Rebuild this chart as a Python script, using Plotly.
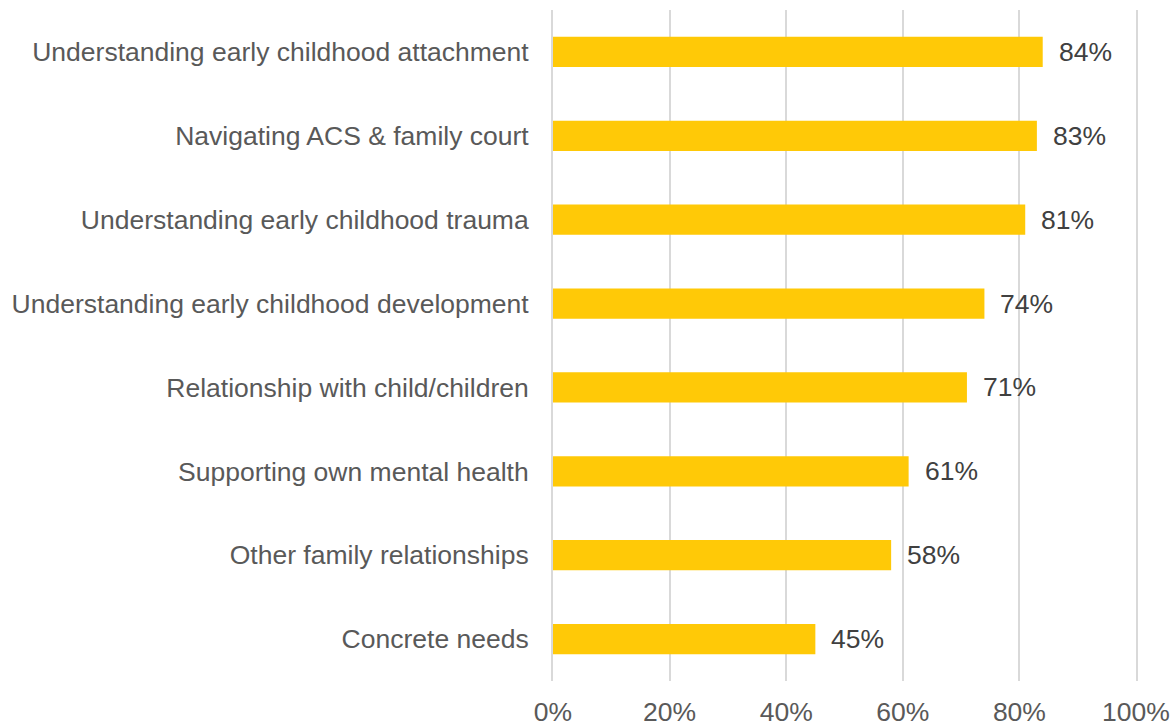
import plotly.graph_objects as go

categories = [
    "Understanding early childhood attachment",
    "Navigating ACS & family court",
    "Understanding early childhood trauma",
    "Understanding early childhood development",
    "Relationship with child/children",
    "Supporting own mental health",
    "Other family relationships",
    "Concrete needs",
]
values = [84, 83, 81, 74, 71, 61, 58, 45]
tick_vals = [0, 20, 40, 60, 80, 100]
tick_text = ["0%", "20%", "40%", "60%", "80%", "100%"]

FONT = "Liberation Sans, Arial, sans-serif"
SIZE = 26.5

fig = go.Figure(
    go.Bar(
        x=values,
        y=categories,
        orientation="h",
        marker=dict(color="#FFC907", line=dict(width=0)),
        width=0.36,
        hoverinfo="skip",
    )
)

# value labels to the right of each bar
for cat, v in zip(categories, values):
    fig.add_annotation(
        x=v, y=cat, text=f"{v}%", showarrow=False,
        xanchor="left", yanchor="middle", xshift=14,
        font=dict(family=FONT, size=SIZE, color="#404040"),
    )

fig.update_layout(
    width=1173, height=727,
    margin=dict(l=553, r=37, t=10, b=46),
    paper_bgcolor="white", plot_bgcolor="white",
    showlegend=False,
    font=dict(family=FONT, size=SIZE, color="#595959"),
    xaxis=dict(
        range=[0, 100], tickvals=tick_vals, ticktext=tick_text,
        showgrid=True, gridcolor="#D9D9D9", gridwidth=2,
        zeroline=False, showline=False, ticks="",
        ticklabelstandoff=12, automargin=False,
        tickfont=dict(family=FONT, size=SIZE, color="#595959"),
        fixedrange=True,
    ),
    yaxis=dict(
        categoryorder="array", categoryarray=categories[::-1],
        showgrid=False, zeroline=False, ticks="",
        # vertical lines at the 0% and 100% edges
        showline=True, mirror=True, linecolor="#D9D9D9", linewidth=2,
        ticklabelstandoff=17, automargin=False,
        tickfont=dict(family=FONT, size=SIZE, color="#595959"),
        fixedrange=True,
    ),
)

fig.write_html("out.html")
